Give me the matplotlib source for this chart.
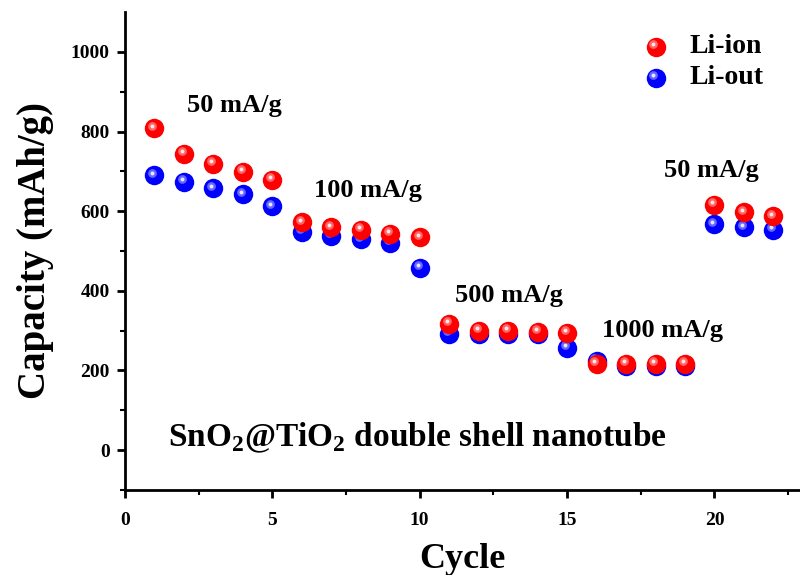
import matplotlib
matplotlib.use("Agg")
import matplotlib.pyplot as plt
import numpy as np

cycles = list(range(1, 23))
li_ion = [808, 743, 718, 698, 678, 572, 559, 552, 542, 534,
          317, 300, 300, 297, 295, 217, 217, 217, 217, 615, 597, 587]
li_out = [690, 673, 657, 642, 612, 547, 537, 529, 521, 458,
          292, 292, 292, 292, 257, 224, 212, 212, 212, 567, 559, 552]

rates = ["50 mA/g", "100 mA/g", "500 mA/g", "1000 mA/g", "50 mA/g"]
rate_pos = [(2.1, 866), (6.4, 652), (11.2, 388), (16.2, 300), (18.3, 703)]

plt.rcParams["font.family"] = ["Liberation Serif", "DejaVu Serif"]
plt.rcParams["font.weight"] = "bold"
plt.rcParams["mathtext.fontset"] = "custom"
plt.rcParams["mathtext.rm"] = "Liberation Serif:bold"

fig = plt.figure(figsize=(8, 5.75), dpi=100)
ax = fig.add_axes([0.156, 0.148, 0.844, 0.831])


def sphere(ax, x, y, color, size=14, zorder=3):
    # shaded ball look: base + lighter spots
    x = np.asarray(x)
    y = np.asarray(y)
    ax.plot(x, y, "o", ms=size, mfc=color, mec="none", zorder=zorder)
    ax.plot(x - 0.07, y + 7, "o", ms=size * 0.45, mfc="white", mec="none",
            alpha=0.4, zorder=zorder)
    ax.plot(x - 0.07, y + 7, "o", ms=size * 0.2, mfc="white", mec="none",
            alpha=0.85, zorder=zorder)


sphere(ax, cycles, li_out, "#0000ff", zorder=3)
sphere(ax, cycles, li_ion, "#ff0000", zorder=4)

ax.set_xlim(0, 22.9)
ax.set_ylim(-100, 1100)
ax.set_xticks([0, 5, 10, 15, 20])
ax.set_xticks(np.arange(0, 23, 2.5), minor=True)
ax.set_yticks([0, 200, 400, 600, 800, 1000])
ax.set_yticks(np.arange(-100, 1100, 100), minor=True)
ax.spines["top"].set_visible(False)
ax.spines["right"].set_visible(False)
for s in ("left", "bottom"):
    ax.spines[s].set_linewidth(2)
ax.tick_params(which="major", direction="out", length=6, width=2,
               labelsize=14, pad=5)
ax.tick_params(axis="x", which="major", pad=10)
ax.tick_params(which="minor", direction="out", length=3.5, width=1.5)
for lab in ax.get_xticklabels() + ax.get_yticklabels():
    lab.set_fontweight("bold")

ax.set_xlabel("Cycle", fontsize=26, fontweight="bold", labelpad=10)
ax.set_ylabel("Capacity (mAh/g)", fontsize=28, fontweight="bold", labelpad=12)

for txt, (tx, ty) in zip(rates, rate_pos):
    ax.text(tx, ty, txt, fontsize=19, fontweight="bold", va="center")

ax.text(1.45, 30, r"SnO$_\mathregular{2}$@TiO$_\mathregular{2}$ double shell nanotube",
        fontsize=24, fontweight="bold", va="center")

# legend
sphere(ax, [18.0], [1013], "#ff0000")
sphere(ax, [18.0], [935], "#0000ff")
ax.text(19.15, 1013, "Li-ion", fontsize=20, fontweight="bold", va="center")
ax.text(19.15, 935, "Li-out", fontsize=20, fontweight="bold", va="center")

fig.savefig("out.png", dpi=100)
